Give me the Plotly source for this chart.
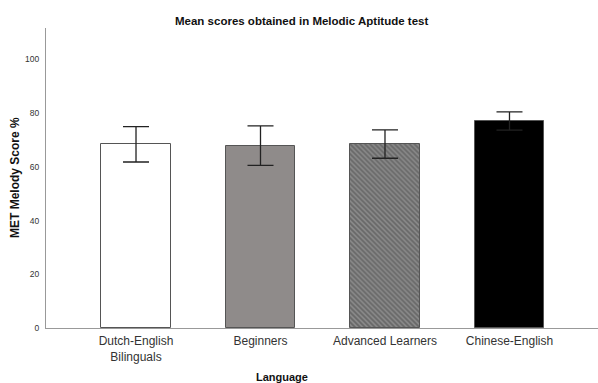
import plotly.graph_objects as go

categories = ["Dutch-English<br>Bilinguals", "Beginners", "Advanced Learners", "Chinese-English"]
means = [68.4, 67.9, 68.5, 77.1]
errors = [6.6, 7.35, 5.3, 3.4]
y_ticks = [0, 20, 40, 60, 80, 100]

fills = ["#ffffff", "#8f8b8a", "#8a8a8a", "#000000"]
patterns = ["", "", "\\", ""]

fig = go.Figure()
fig.add_trace(go.Bar(
    x=categories, y=means, width=0.562,
    marker=dict(color=fills, line=dict(color="#555555", width=1),
                pattern=dict(shape=patterns, fgcolor="#1a1a1a", bgcolor="#929292", size=3.5, solidity=0.5)),
    error_y=dict(type="data", array=errors, visible=True, color="#222222", thickness=1.3, width=13),
    showlegend=False,
))

fig.update_layout(
    width=598, height=383,
    margin=dict(l=46, r=0, t=28, b=55),
    plot_bgcolor="white", paper_bgcolor="white",
    font=dict(family="Liberation Sans, Arial", color="#222222"),
    bargap=0,
)
pw, ph = 598 - 46, 383 - 28 - 55
fig.add_annotation(text="<b>Mean scores obtained in Melodic Aptitude test</b>", x=(301 - 46) / pw,
                   y=(327.5 - 20) / ph, xref="paper", yref="paper", showarrow=False,
                   xanchor="center", yanchor="middle", font=dict(size=11.5, color="#111111"))
fig.add_annotation(text="<b>Language</b>", x=(282 - 46) / pw, y=-(376 - 327.5) / ph,
                   xref="paper", yref="paper", showarrow=False, xanchor="center", yanchor="middle",
                   font=dict(size=11, color="#111111"))
fig.add_annotation(text="<b>MET Melody Score %</b>", x=-(46 - 15) / pw, y=(327.5 - 177.5) / ph,
                   xref="paper", yref="paper", showarrow=False, textangle=-90, xanchor="center",
                   yanchor="middle", font=dict(size=12, color="#111111"))

fig.update_xaxes(range=[-0.723, 3.711], showline=True, linecolor="#999999", linewidth=1,
                 ticks="", tickfont=dict(size=12, color="#333333"), showgrid=False,
                 ticklabelstandoff=2)
fig.update_yaxes(range=[0, 111.7], tickvals=y_ticks, showline=True, linecolor="#999999", linewidth=1,
                 ticks="", tickfont=dict(size=8.5, color="#333333"), showgrid=False, zeroline=False,
                 ticklabelstandoff=4)

fig.write_html("out.html")
